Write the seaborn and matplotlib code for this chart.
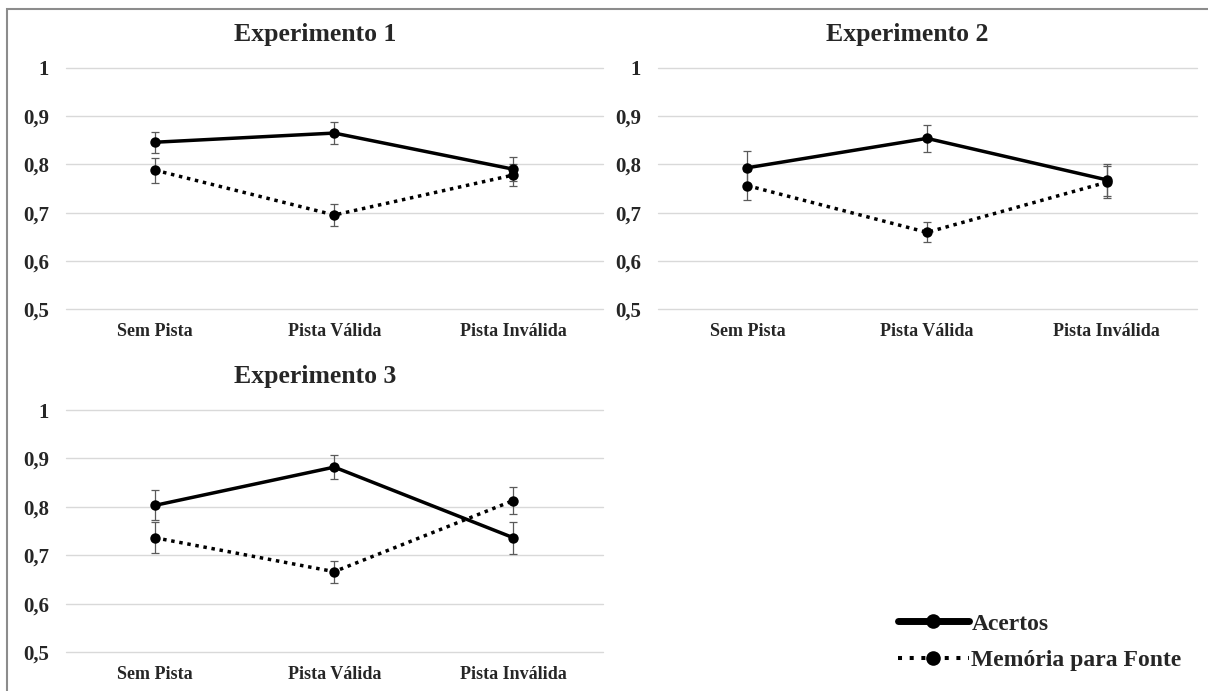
import numpy as np
import pandas as pd
import matplotlib
matplotlib.use("Agg")
import matplotlib.pyplot as plt
import seaborn as sns
from matplotlib.lines import Line2D
from matplotlib.patches import Rectangle

# Dados
categorias = ["Sem Pista", "Pista Válida", "Pista Inválida"]
medidas = ["Acertos", "Memória para Fonte"]
titulos = ["Experimento 1", "Experimento 2", "Experimento 3"]

acertos = [
    [0.846, 0.865, 0.790],
    [0.793, 0.854, 0.768],
    [0.803, 0.882, 0.736],
]
acertos_erro = [
    [0.022, 0.023, 0.025],
    [0.035, 0.028, 0.033],
    [0.031, 0.025, 0.033],
]
memoria = [
    [0.788, 0.695, 0.778],
    [0.756, 0.659, 0.763],
    [0.736, 0.666, 0.813],
]
memoria_erro = [
    [0.026, 0.023, 0.023],
    [0.030, 0.021, 0.033],
    [0.032, 0.023, 0.028],
]
yticks = [0.5, 0.6, 0.7, 0.8, 0.9, 1.0]

sns.set_style("white")
plt.rcParams["font.family"] = ["Liberation Serif", "DejaVu Serif"]
plt.rcParams["font.weight"] = "bold"

fig = plt.figure(figsize=(12.08, 6.91), dpi=100)
W, H = 1208, 691

# posições dos painéis em pixels (esquerda, topo, direita, base)
caixas = [(65.5, 68, 603, 309), (657.5, 68, 1196.5, 309), (65.5, 410, 603, 652)]

pontilhado = (1, 1.36)

for i, (l, t, r, b) in enumerate(caixas):
    ax = fig.add_axes([l / W, 1 - b / H, (r - l) / W, (b - t) / H])
    df = pd.DataFrame({
        "x": list(range(len(categorias))) * 2,
        "valor": acertos[i] + memoria[i],
        "erro": acertos_erro[i] + memoria_erro[i],
        "medida": [medidas[0]] * 3 + [medidas[1]] * 3,
    })
    # barras de erro
    for m in medidas:
        d = df[df["medida"] == m]
        ax.errorbar(d["x"], d["valor"], yerr=d["erro"], fmt="none",
                    ecolor="#5a5a5a", elinewidth=0.9, capsize=2.6, capthick=0.9, zorder=2)
    sns.lineplot(data=df, x="x", y="valor", hue="medida", style="medida",
                 palette=["black", "black"], markers={medidas[0]: "o", medidas[1]: "o"},
                 dashes={medidas[0]: "", medidas[1]: pontilhado},
                 markersize=7.5, markeredgewidth=0, linewidth=2.5, legend=False, ax=ax, zorder=3)
    ax.set_xlim(-0.5, 2.5)
    ax.set_ylim(0.5, 1.0)
    ax.set_yticks(yticks)
    ax.set_yticklabels(["1" if v == 1 else f"{v:.1f}".replace(".", ",") for v in yticks],
                       fontsize=15, fontweight="bold")
    ax.set_xticks(range(len(categorias)))
    ax.set_xticklabels(categorias, fontsize=13, fontweight="bold")
    ax.tick_params(axis="y", length=0, pad=12)
    ax.tick_params(axis="x", length=0, pad=10)
    ax.set_xlabel("")
    ax.set_ylabel("")
    ax.grid(axis="y", color="#d9d9d9", linewidth=1)
    for s in ax.spines.values():
        s.set_visible(False)
    for gl in ax.get_ygridlines():
        gl.set_clip_on(False)
    ax.set_title(titulos[i], fontsize=18.5, fontweight="bold", x=0.464, pad=19.5)

# legenda
handles = [
    Line2D([0], [0], color="black", lw=5, marker="o", markersize=10.5, markeredgewidth=0),
    Line2D([0], [0], color="black", lw=2.9, linestyle=(0, (1, 1.9)), marker="o",
           markersize=10.5, markeredgewidth=0),
]
fig.legend(handles, medidas, loc="center left", bbox_to_anchor=(886 / W, 1 - 642 / H),
           frameon=False, borderpad=0, handlelength=3.0, handletextpad=0.12, labelspacing=0.62,
           prop={"family": "Liberation Serif", "weight": "bold", "size": 17})

# moldura cinza
fig.patches.append(Rectangle((7 / W, -0.05), 1.1, 1 - 9 / H + 0.05, transform=fig.transFigure,
                             fill=False, edgecolor="#8c8c8c", linewidth=1.5))

fig.savefig("out.png", dpi=100)
